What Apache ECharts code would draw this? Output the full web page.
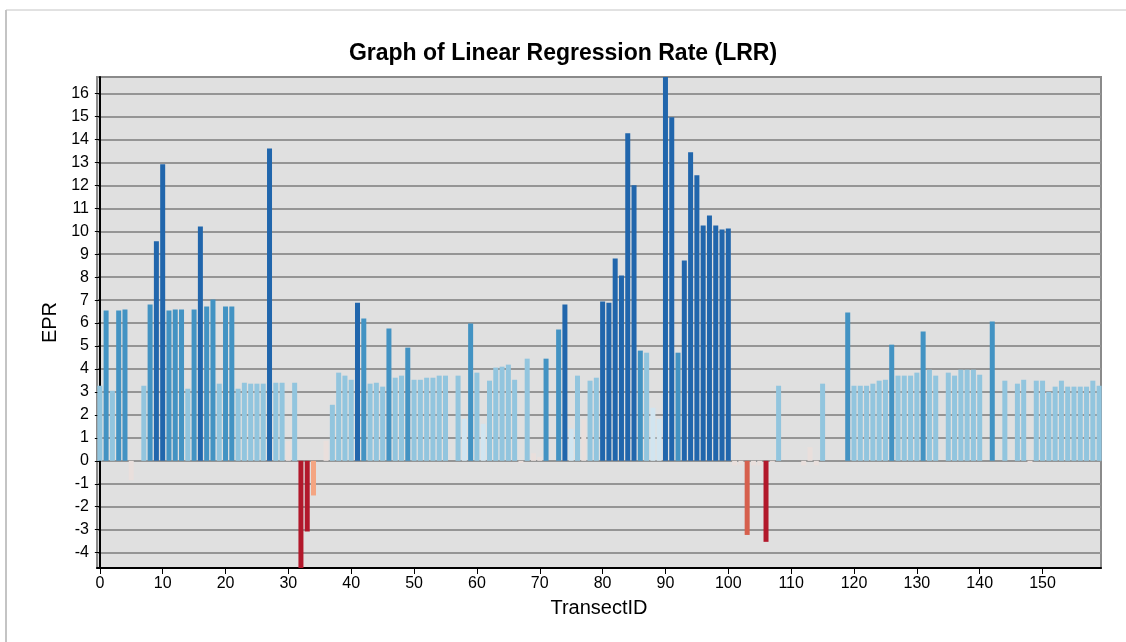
<!DOCTYPE html>
<html lang="en">
<head>
<meta charset="UTF-8">
<title>Graph of Linear Regression Rate (LRR)</title>
<style>
    * {
        margin: 0;
        padding: 0;
    }

    html, body {
        background: #fff;
        overflow: hidden;
    }

    .main {
        width: 1126px;
        height: 642px;
    }
</style>
</head>
<body>
<div id="main" class="main"></div>
<script src="https://cdn.jsdelivr.net/npm/echarts@6/dist/echarts.min.js"></script>
<script>
    // TransectID 0..159
    var transectIds = [
        0, 1, 2, 3, 4, 5, 6, 7, 8, 9, 10, 11, 12, 13, 14, 15, 16, 17, 18, 19,
        20, 21, 22, 23, 24, 25, 26, 27, 28, 29, 30, 31, 32, 33, 34, 35, 36, 37, 38, 39,
        40, 41, 42, 43, 44, 45, 46, 47, 48, 49, 50, 51, 52, 53, 54, 55, 56, 57, 58, 59,
        60, 61, 62, 63, 64, 65, 66, 67, 68, 69, 70, 71, 72, 73, 74, 75, 76, 77, 78, 79,
        80, 81, 82, 83, 84, 85, 86, 87, 88, 89, 90, 91, 92, 93, 94, 95, 96, 97, 98, 99,
        100, 101, 102, 103, 104, 105, 106, 107, 108, 109, 110, 111, 112, 113, 114, 115, 116, 117, 118, 119,
        120, 121, 122, 123, 124, 125, 126, 127, 128, 129, 130, 131, 132, 133, 134, 135, 136, 137, 138, 139,
        140, 141, 142, 143, 144, 145, 146, 147, 148, 149, 150, 151, 152, 153, 154, 155, 156, 157, 158, 159
    ];

    // EPR value per transect (null = no value)
    var epr = [
        3.27, 6.55, 3.05, 6.55, 6.59, -0.85, null, 3.27, 6.81, 9.56, 12.92, 6.55, 6.59, 6.59, 3.14, 6.59, 10.21, 6.72, 7.03, 3.36,
        6.72, 6.72, 3.14, 3.40, 3.36, 3.36, 3.36, 13.61, 3.40, 3.40, 0.87, 3.40, -4.8, -3.08, -1.51, null, 0.87, 2.44, 3.84, 3.71,
        3.53, 6.89, 6.20, 3.36, 3.40, 3.23, 5.76, 3.62, 3.71, 4.93, 3.53, 3.53, 3.62, 3.62, 3.71, 3.71, null, 3.71, 1.83, 5.98,
        3.84, 1.61, 3.49, 4.06, 4.10, 4.19, 3.53, -0.10, 4.45, 0.33, 0.17, 4.45, null, 5.72, 6.81, 1.40, 3.71, 1.80, 3.49, 3.62,
        6.94, 6.89, 8.81, 8.07, 14.27, 12.00, 4.80, 4.71, 2.31, 1.83, 16.9, 14.97, 4.71, 8.73, 13.44, 12.44, 10.25, 10.69, 10.25, 10.08,
        10.12, -0.20, -0.17, -3.23, -0.20, -0.20, -3.53, -0.05, 3.27, null, null, null, -0.20, 0.60, -0.20, 3.36, null, null, null, 6.46,
        3.27, 3.27, 3.27, 3.36, 3.49, 3.53, 5.06, 3.71, 3.71, 3.71, 3.84, 5.63, 3.97, 3.71, null, 3.84, 3.71, 3.97, 3.97, 3.97,
        3.75, null, 6.07, null, 3.49, null, 3.36, 3.53, -0.10, 3.49, 3.49, 3.01, 3.23, 3.49, 3.23, 3.23, 3.23, 3.23, 3.49, 3.27
    ];

    // LRR class (0 = strongest erosion ... 7 = strongest accretion)
    var rateClass = [
        5, 6, 5, 6, 6, 3, 3, 5, 6, 7, 7, 6, 6, 6, 5, 6, 7, 6, 6, 5,
        6, 6, 5, 5, 5, 5, 5, 7, 5, 5, 3, 5, 0, 0, 2, 3, 3, 5, 5, 5,
        5, 7, 6, 5, 5, 5, 6, 5, 5, 6, 5, 5, 5, 5, 5, 5, 3, 5, 4, 6,
        5, 4, 5, 5, 5, 5, 5, 3, 5, 3, 3, 6, 3, 6, 7, 4, 5, 3, 5, 5,
        7, 7, 7, 7, 7, 7, 6, 5, 4, 4, 7, 7, 6, 7, 7, 7, 7, 7, 7, 7,
        7, 3, 3, 1, 3, 3, 0, 3, 5, 3, 3, 3, 3, 3, 3, 5, 3, 3, 3, 6,
        5, 5, 5, 5, 5, 5, 6, 5, 5, 5, 5, 6, 5, 5, 3, 5, 5, 5, 5, 5,
        5, 3, 6, 3, 5, 3, 5, 5, 3, 5, 5, 5, 5, 5, 5, 5, 5, 5, 5, 5
    ];

    var classColors = ['#b2182b', '#d6604d', '#f4a582', '#e9dfdc', '#d1e5f0', '#92c5de', '#4393c3', '#2166ac'];

    var xTicks = [0, 10, 20, 30, 40, 50, 60, 70, 80, 90, 100, 110, 120, 130, 140, 150];
    var yTicks = [-4, -3, -2, -1, 0, 1, 2, 3, 4, 5, 6, 7, 8, 9, 10, 11, 12, 13, 14, 15, 16];

    var barData = transectIds.map(function (id, i) {
        return {
            value: [id, epr[i]],
            itemStyle: {color: classColors[rateClass[i]]}
        };
    });

    var fontName = 'Liberation Sans, Arial, sans-serif';
    var labelFont = {color: '#000', fontSize: 16, fontFamily: fontName};

    var myChart = echarts.init(document.getElementById('main'), null, {renderer: 'canvas'});

    myChart.setOption({
        backgroundColor: '#fff',
        animation: false,
        title: {
            text: 'Graph of Linear Regression Rate (LRR)',
            left: 'center',
            top: 37,
            textStyle: {
                color: '#000',
                fontSize: 23,
                fontWeight: 'bold',
                fontFamily: fontName
            }
        },
        graphic: [
            {type: 'line', shape: {x1: 6, y1: 10, x2: 6, y2: 642}, style: {stroke: '#c4c4c4', lineWidth: 2}, silent: true},
            {type: 'line', shape: {x1: 6, y1: 10, x2: 1126, y2: 10}, style: {stroke: '#c4c4c4', lineWidth: 1}, silent: true}
        ],
        grid: {
            left: 97,
            top: 77,
            width: 1004,
            height: 491,
            show: true,
            backgroundColor: '#e0e0e0',
            borderColor: '#8a8a8a',
            borderWidth: 2
        },
        xAxis: {
            type: 'value',
            min: -0.45,
            max: 159.3,
            splitNumber: 16,
            name: 'TransectID',
            nameLocation: 'middle',
            nameGap: 30,
            nameTextStyle: {color: '#000', fontSize: 20, fontFamily: fontName},
            axisLine: {onZero: false, lineStyle: {color: '#000', width: 2}},
            axisTick: {show: true, length: 6, customValues: xTicks, lineStyle: {color: '#000', width: 1}},
            axisLabel: Object.assign({margin: 8, customValues: xTicks}, labelFont),
            splitLine: {show: false}
        },
        yAxis: {
            type: 'value',
            min: -4.67,
            max: 16.72,
            splitNumber: 21,
            minInterval: 1,
            maxInterval: 1,
            name: 'EPR',
            nameLocation: 'middle',
            nameGap: 31,
            nameTextStyle: {color: '#000', fontSize: 20, fontFamily: fontName},
            axisLine: {show: true, lineStyle: {color: '#000', width: 2}},
            axisTick: {show: true, length: 5, customValues: yTicks, lineStyle: {color: '#000', width: 1}},
            axisLabel: Object.assign({margin: 8, customValues: yTicks}, labelFont),
            splitLine: {show: true, lineStyle: {color: '#959595', width: 2}}
        },
        series: [{
            name: 'EPR',
            type: 'bar',
            barWidth: 5,
            clip: true,
            data: barData
        }]
    });
</script>
</body>
</html>
